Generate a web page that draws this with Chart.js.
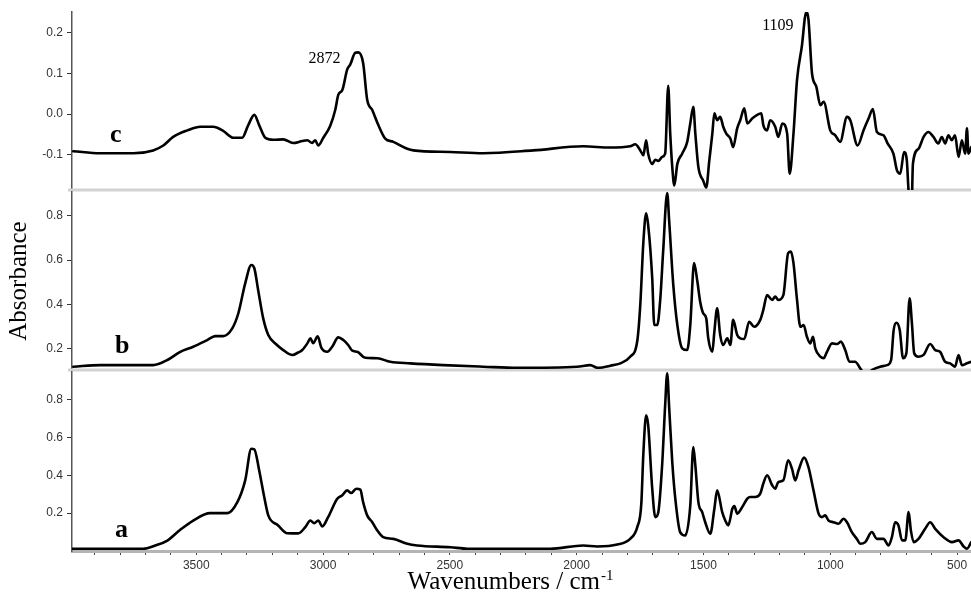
<!DOCTYPE html>
<html><head><meta charset="utf-8">
<script src="https://cdn.jsdelivr.net/npm/chart.js@4.4.0/dist/chart.umd.min.js"></script>
<style>
html,body{margin:0;padding:0;background:#fff;}
#wrap{position:relative;width:971px;height:594px;overflow:hidden;}
#wrap canvas{position:absolute;left:0;top:0;}
</style></head><body>
<div id="wrap">
<canvas id="cC" width="971" height="594"></canvas>
<canvas id="cB" width="971" height="594"></canvas>
<canvas id="cA" width="971" height="594"></canvas>
</div>
<script>
// ---- axis settings ----
const X_MIN = 445, X_MAX = 3990;
const xLabelValues = [3500, 3000, 2500, 2000, 1500, 1000, 500];
const xMinorStep = 100;
const cTicks = [-0.1, 0.0, 0.1, 0.2];
const bTicks = [0.2, 0.4, 0.6, 0.8];
const aTicks = [0.2, 0.4, 0.6, 0.8];
const panelLetters = ['c', 'b', 'a'];
const annotWn = [2872, 1109];
const annotText = ['2872', '1109'];

// ---- spectrum c ----
const cWn = [3985,3879,3748,3670,3630,3591,3535,3484,3433,3394,3354,3319,3295,3271,3252,3228,3196,3157,3118,3082,3062,3043,3031,3019,2999,2972,2952,2940,2924,2905,2893,2873,2861,2842,2826,2806,2782,2755,2723,2668,2644,2498,2368,2171,1974,1868,1789,1769,1749,1737,1726,1718,1702,1690,1678,1663,1651,1639,1631,1623,1615,1603,1584,1564,1552,1540,1532,1520,1501,1489,1477,1465,1457,1446,1434,1422,1410,1394,1383,1367,1355,1339,1327,1308,1288,1272,1264,1249,1237,1217,1205,1189,1170,1160,1145,1131,1112,1095,1086,1072,1055,1039,1026,1000,980,961,934,921,892,869,849,832,816,790,774,751,737,724,709,698,692,680,674,652,632,613,593,574,560,547,534,521,508,494,481,468,461,455,444];
const cAbs = [-0.091,-0.096,-0.096,-0.089,-0.077,-0.056,-0.040,-0.031,-0.031,-0.041,-0.058,-0.058,-0.027,-0.002,-0.027,-0.058,-0.063,-0.062,-0.071,-0.066,-0.064,-0.071,-0.064,-0.077,-0.058,-0.029,0.010,0.047,0.059,0.109,0.121,0.150,0.151,0.125,0.035,0.010,-0.027,-0.060,-0.068,-0.085,-0.089,-0.093,-0.096,-0.089,-0.079,-0.082,-0.079,-0.074,-0.089,-0.101,-0.064,-0.097,-0.122,-0.112,-0.115,-0.105,-0.097,0.069,-0.048,-0.130,-0.175,-0.122,-0.097,-0.068,-0.023,0.018,-0.048,-0.130,-0.163,-0.180,-0.114,-0.048,0.002,-0.015,-0.007,-0.031,-0.048,-0.060,-0.081,-0.035,-0.015,0.014,-0.023,-0.011,-0.002,0.002,-0.027,-0.040,-0.015,-0.031,-0.056,-0.023,-0.048,-0.146,-0.048,0.084,0.166,0.249,0.232,0.100,0.067,0.022,0.030,-0.040,-0.052,-0.068,-0.007,-0.015,-0.077,-0.040,-0.011,0.012,-0.044,-0.052,-0.072,-0.097,-0.138,-0.146,-0.093,-0.114,-0.180,-0.250,-0.122,-0.085,-0.056,-0.044,-0.056,-0.072,-0.056,-0.072,-0.052,-0.064,-0.052,-0.105,-0.064,-0.097,-0.035,-0.097,-0.081];

// ---- spectrum b ----
const bWn = [3985,3879,3670,3614,3563,3512,3457,3425,3394,3358,3334,3307,3283,3271,3256,3236,3216,3185,3157,3121,3098,3082,3062,3050,3039,3021,3007,2983,2964,2940,2920,2901,2885,2865,2834,2786,2735,2656,2526,2368,2234,1998,1946,1919,1856,1828,1789,1761,1749,1737,1726,1718,1702,1694,1682,1670,1659,1643,1635,1619,1603,1584,1564,1552,1537,1524,1513,1501,1489,1481,1465,1457,1446,1434,1422,1406,1394,1383,1367,1355,1339,1320,1300,1276,1264,1249,1229,1217,1205,1185,1166,1155,1145,1131,1118,1105,1092,1079,1068,1059,1039,1026,1013,993,973,958,941,924,902,882,869,854,836,803,776,760,750,739,726,713,700,687,678,669,652,632,606,586,567,547,527,508,494,481,461,444];
const bAbs = [0.119,0.126,0.126,0.149,0.186,0.209,0.239,0.257,0.257,0.292,0.360,0.495,0.578,0.563,0.465,0.337,0.262,0.220,0.194,0.172,0.183,0.194,0.224,0.247,0.225,0.256,0.205,0.186,0.209,0.251,0.239,0.217,0.191,0.186,0.159,0.157,0.141,0.134,0.126,0.119,0.114,0.119,0.126,0.114,0.126,0.134,0.164,0.235,0.400,0.680,0.811,0.758,0.518,0.307,0.307,0.428,0.638,0.902,0.773,0.488,0.307,0.202,0.194,0.307,0.586,0.503,0.412,0.360,0.337,0.247,0.186,0.277,0.382,0.262,0.217,0.247,0.217,0.330,0.262,0.247,0.244,0.322,0.299,0.330,0.375,0.442,0.420,0.435,0.420,0.442,0.631,0.638,0.586,0.420,0.299,0.307,0.254,0.224,0.254,0.202,0.164,0.157,0.186,0.224,0.221,0.232,0.194,0.141,0.141,0.112,0.092,0.085,0.104,0.119,0.126,0.149,0.284,0.317,0.284,0.157,0.179,0.428,0.315,0.179,0.164,0.172,0.221,0.194,0.186,0.141,0.134,0.119,0.172,0.126,0.134,0.141];

// ---- spectrum a ----
const aWn = [3989,3709,3662,3614,3563,3512,3445,3378,3338,3307,3283,3271,3252,3232,3216,3177,3141,3098,3070,3050,3035,3019,3003,2980,2944,2924,2905,2889,2869,2853,2842,2826,2806,2786,2763,2723,2668,2629,2498,2431,2104,1974,1919,1840,1789,1761,1745,1737,1726,1718,1702,1690,1678,1663,1651,1643,1635,1623,1611,1592,1572,1552,1540,1532,1520,1505,1493,1473,1457,1446,1426,1414,1402,1386,1378,1367,1347,1327,1316,1296,1276,1264,1249,1229,1217,1205,1185,1166,1151,1138,1125,1103,1086,1066,1046,1033,1020,1007,987,967,948,934,915,895,882,862,836,816,790,770,757,744,731,717,704,691,682,671,652,626,606,586,553,520,494,474,461,444];
const aAbs = [0.012,0.012,0.029,0.055,0.112,0.161,0.200,0.200,0.258,0.373,0.540,0.537,0.426,0.285,0.188,0.135,0.094,0.093,0.126,0.161,0.147,0.161,0.130,0.179,0.276,0.294,0.320,0.306,0.329,0.324,0.258,0.188,0.152,0.108,0.073,0.064,0.038,0.029,0.020,0.012,0.012,0.029,0.024,0.034,0.064,0.126,0.250,0.514,0.717,0.664,0.329,0.179,0.205,0.452,0.770,0.938,0.752,0.470,0.276,0.100,0.082,0.240,0.549,0.452,0.258,0.205,0.152,0.091,0.223,0.320,0.205,0.161,0.135,0.223,0.237,0.197,0.232,0.276,0.285,0.285,0.303,0.356,0.400,0.347,0.329,0.364,0.373,0.479,0.435,0.373,0.426,0.493,0.443,0.320,0.197,0.179,0.188,0.161,0.152,0.144,0.170,0.152,0.100,0.064,0.038,0.047,0.100,0.064,0.064,0.029,0.073,0.152,0.135,0.056,0.056,0.205,0.108,0.047,0.064,0.117,0.152,0.117,0.073,0.047,0.056,0.024,0.012,0.047];

const pts = (wn, ab) => wn.map((w, i) => ({x: w, y: ab[i]}));

const SANS = '"Liberation Sans", Arial, sans-serif';
const SERIF = '"Liberation Serif", "Times New Roman", serif';

const xMinorTicks = [];
for (let v = 500; v <= 3900; v += xMinorStep) xMinorTicks.push(v);

function xScale(show) {
  return {
    type: 'linear', reverse: true, min: X_MIN, max: X_MAX, display: show,
    afterBuildTicks: s => { s.ticks = xMinorTicks.map(v => ({value: v})); },
    ticks: {autoSkip: false, maxRotation: 0, minRotation: 0, padding: 3, color: '#333',
      font: {family: SANS, size: 12},
      callback: v => xLabelValues.includes(v) ? String(v) : ''},
    grid: {drawOnChartArea: false, drawTicks: true, tickLength: 4, color: '#444', lineWidth: 1},
    border: {display: true, color: '#b4b4b4', width: 3},
    afterFit: s => { s.height = show ? 43 : 0; s.paddingLeft = 0; s.paddingRight = 0; }
  };
}
function yScale(min, max, tickVals, title) {
  return {
    type: 'linear', min: min, max: max,
    afterBuildTicks: s => { s.ticks = tickVals.map(v => ({value: v})); },
    ticks: {padding: 4, color: '#333', font: {family: SANS, size: 12},
      callback: v => Number(v).toFixed(1)},
    grid: {drawOnChartArea: false, drawTicks: true, tickLength: 5, color: '#333', lineWidth: 1},
    border: {display: true, color: '#555', width: 1.5, dash: [2, 2]},
    title: title ? {display: true, text: title, color: '#000', font: {family: SERIF, size: 25}, padding: {top: 4, bottom: 0}} : {display: false},
    afterFit: s => { s.width = 72; s.paddingTop = 0; s.paddingBottom = 0; }
  };
}
function deco(letter, lx, ly, separator, extra) {
  return {
    id: 'deco',
    beforeDatasetsDraw(chart) {
      if (!separator) return;
      const ctx = chart.ctx, a = chart.chartArea;
      ctx.save();
      ctx.strokeStyle = '#d2d2d2'; ctx.lineWidth = 3;
      ctx.beginPath(); ctx.moveTo(a.left - 4, a.bottom); ctx.lineTo(a.right, a.bottom); ctx.stroke();
      ctx.restore();
    },
    afterDraw(chart) {
      const ctx = chart.ctx;
      ctx.save();
      ctx.fillStyle = '#000';
      ctx.font = 'bold 26px ' + SERIF;
      ctx.textAlign = 'left'; ctx.textBaseline = 'alphabetic';
      ctx.fillText(letter, lx, ly);
      ctx.restore();
      if (extra) extra(chart);
    }
  };
}
function common(padding) {
  return {
    responsive: false, animation: false, maintainAspectRatio: false,
    layout: {padding: padding},
    plugins: {legend: {display: false}, tooltip: {enabled: false}},
    elements: {point: {radius: 0}, line: {cubicInterpolationMode: 'monotone', borderJoinStyle: 'round', borderCapStyle: 'round'}}
  };
}
function ds(data, yId) {
  return {data: data, borderColor: '#000', borderWidth: 2.6, pointRadius: 0, fill: false, yAxisID: yId, xAxisID: 'x'};
}

// panel c
new Chart(document.getElementById('cC'), {
  type: 'line',
  data: {datasets: [ds(pts(cWn, cAbs), 'y')]},
  options: Object.assign(common({top: 12, bottom: 404, left: 0, right: 0}), {
    scales: {x: xScale(false), y: yScale(-0.186, 0.25, cTicks, null)}
  }),
  plugins: [deco(panelLetters[0], 110, 142, true, chart => {
    const ctx = chart.ctx, xs = chart.scales.x, ys = chart.scales.y;
    ctx.save();
    ctx.fillStyle = '#000'; ctx.font = '16px ' + SERIF; ctx.textAlign = 'right';
    ctx.fillText(annotText[0], xs.getPixelForValue(annotWn[0]) - 15, ys.getPixelForValue(0.124));
    ctx.fillText(annotText[1], xs.getPixelForValue(annotWn[1]) - 9, ys.getPixelForValue(0.206));
    ctx.restore();
  })]
});

// panel b
new Chart(document.getElementById('cB'), {
  type: 'line',
  data: {datasets: [ds(pts(bWn, bAbs), 'y')]},
  options: Object.assign(common({top: 192, bottom: 224, left: 0, right: 0}), {
    scales: {x: xScale(false), y: yScale(0.104, 0.907, bTicks, 'Absorbance')}
  }),
  plugins: [deco(panelLetters[1], 115, 353, true, null)]
});

// panel a
new Chart(document.getElementById('cA'), {
  type: 'line',
  data: {datasets: [ds(pts(aWn, aAbs), 'y')]},
  options: Object.assign(common({top: 372, bottom: 0, left: 0, right: 0}), {
    scales: {x: xScale(true), y: yScale(0, 0.945, aTicks, null)}
  }),
  plugins: [deco(panelLetters[2], 115, 537, false, chart => {
    const ctx = chart.ctx;
    ctx.save();
    ctx.fillStyle = '#000'; ctx.textBaseline = 'alphabetic'; ctx.textAlign = 'left';
    const main = 'Wavenumbers / cm', sup = '-1';
    ctx.font = '25px ' + SERIF; const w1 = ctx.measureText(main).width;
    ctx.font = '15px ' + SERIF; const w2 = ctx.measureText(sup).width;
    const x0 = 510 - (w1 + w2) / 2;
    ctx.font = '25px ' + SERIF; ctx.fillText(main, x0, 589);
    ctx.font = '15px ' + SERIF; ctx.fillText(sup, x0 + w1 + 1, 580);
    ctx.restore();
  })]
});
</script>
</body></html>
